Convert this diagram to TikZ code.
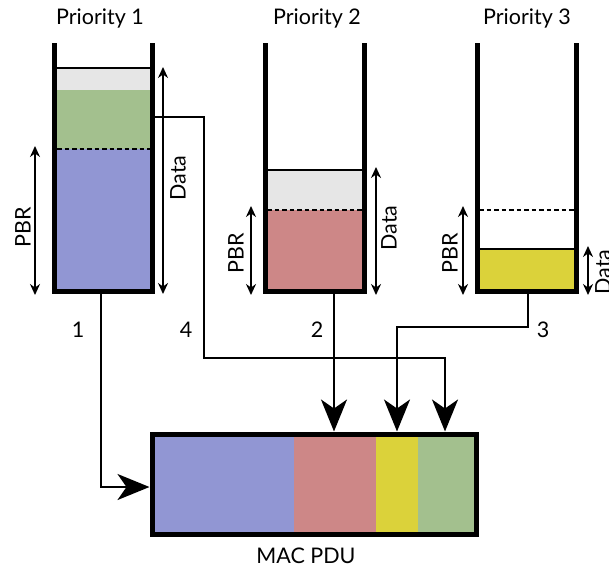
\documentclass[tikz,border=0pt]{standalone}
\usepackage{fontspec}
\setmainfont{Lato}
\usetikzlibrary{arrows.meta}
\definecolor{qblue}{HTML}{9196D3}
\definecolor{qgreen}{HTML}{A3C08E}
\definecolor{qred}{HTML}{CD8787}
\definecolor{qyellow}{HTML}{DBD23A}
\definecolor{qgray}{HTML}{E6E6E6}
\begin{document}
\begin{tikzpicture}[x=1pt,y=-1pt,
  wall/.style={line width=5pt,miter limit=10,line join=miter},
  thin/.style={line width=1.3pt},
  lvl/.style={line width=2pt,dash pattern=on 4.5pt off 3pt},
  dim/.style={line width=1.8pt,{Stealth[length=11pt,width=10pt]}-{Stealth[length=11pt,width=10pt]}},
  conn/.style={line width=2pt},
  bigarrow/.style={line width=2.2pt,-{Stealth[length=32pt,width=26pt,inset=9pt]}},
  lab/.style={font=\fontsize{21.5}{25}\selectfont,inner sep=0pt},
  vlab/.style={lab,rotate=90}]
\useasboundingbox (0,0) rectangle (609,570);
% bucket 1
\fill[qgray] (57,68) rectangle (150,90);
\fill[qgreen] (57,90) rectangle (150,149);
\fill[qblue] (57,149) rectangle (150,290);
\draw[thin] (57,68) -- (150,68);
\draw[lvl] (57,149) -- (150,149);
\draw[wall] (54.5,43) -- (54.5,291) -- (152,291) -- (152,43);
% bucket 2
\fill[qgray] (267,170) rectangle (362,210);
\fill[qred] (267,210) rectangle (362,290);
\draw[thin] (267,170) -- (362,170);
\draw[lvl] (267,210) -- (362,210);
\draw[wall] (265,43) -- (265,291) -- (364,291) -- (364,43);
% bucket 3
\fill[qyellow] (479,249) rectangle (574,290);
\draw[thin] (479,249) -- (574,249);
\draw[lvl] (479,210) -- (574,210);
\draw[wall] (477,43) -- (477,291) -- (576,291) -- (576,43);
% titles
\node[lab] (t1) at (100,19) {Priority 1};
\node[lab] (t2) at (317,19) {Priority 2};
\node[lab] (t3) at (527,19) {Priority 3};
% dimension arrows
\coordinate (d1a) at (163,67); \coordinate (d1b) at (163,294);
\coordinate (p1a) at (35,146); \coordinate (p1b) at (35,295);
\coordinate (d2a) at (376,167); \coordinate (d2b) at (376,295);
\coordinate (p2a) at (251,206); \coordinate (p2b) at (251,295);
\coordinate (p3a) at (463,206); \coordinate (p3b) at (463,295);
\coordinate (d3a) at (588,246); \coordinate (d3b) at (588,295);
\draw[dim] (d1a) -- (d1b);
\draw[dim] (p1a) -- (p1b);
\draw[dim] (d2a) -- (d2b);
\draw[dim] (p2a) -- (p2b);
\draw[dim] (p3a) -- (p3b);
\draw[dim] (d3a) -- (d3b);
\node[vlab] (ld1) at (178,178) {Data};
\node[vlab] (lp1) at (23,227) {PBR};
\node[vlab] (ld2) at (389,228) {Data};
\node[vlab] (lp2) at (236,253) {PBR};
\node[vlab] (lp3) at (450,253) {PBR};
\node[vlab] (ld3) at (603,272) {Data};
% MAC PDU
\fill[qblue] (152,434) rectangle (294,534);
\fill[qred] (294,434) rectangle (376,534);
\fill[qyellow] (376,434) rectangle (418,534);
\fill[qgreen] (418,434) rectangle (476,534);
\node[draw,line width=5pt,minimum width=324pt,minimum height=100pt,inner sep=0pt,outer sep=2.5pt] (mac) at (314,484) {};
\node[lab] (macl) at (306,556) {MAC PDU};
% connectors
\coordinate (b1) at (101,293.5);
\coordinate (b2) at (334,293.5);
\coordinate (b3) at (528,293.5);
\coordinate (s4) at (154.5,117);
\coordinate (k1) at (101,487);
\coordinate (k4a) at (204,117);
\coordinate (k4b) at (204,358);
\coordinate (k4c) at (445,358);
\coordinate (k3a) at (528,327);
\coordinate (k3b) at (397,327);
\draw[bigarrow] (b1) -- (k1) -- (k1 -| mac.west);
\draw[bigarrow] (b2) -- (b2 |- mac.north);
\draw[bigarrow] (b3) -- (k3a) -- (k3b) -- (k3b |- mac.north);
\draw[bigarrow] (s4) -- (k4a) -- (k4b) -- (k4c) -- (k4c |- mac.north);
\node[lab] (n1) at (78,330) {1};
\node[lab] (n4) at (186,330) {4};
\node[lab] (n2) at (317,330) {2};
\node[lab] (n3) at (543,330) {3};
\end{tikzpicture}
\end{document}
